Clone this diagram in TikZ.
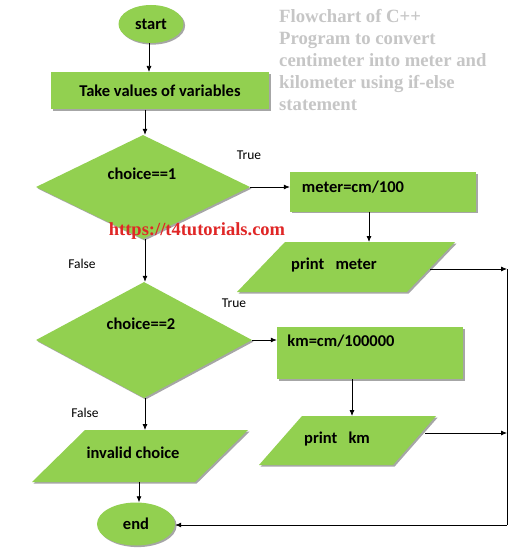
\documentclass[tikz,border=0pt]{standalone}
\usepackage{fontspec}
\setmainfont{Carlito}
\newfontfamily\serifbold{Liberation Serif}
\usetikzlibrary{shapes.geometric,shadows,arrows.meta}
\definecolor{boxgreen}{HTML}{92D050}
\definecolor{shadowgray}{HTML}{A6A6A6}
\definecolor{titlegray}{HTML}{C6C6C6}
\definecolor{urlred}{HTML}{E02626}
\tikzset{
  shp/.style={fill=boxgreen, drop shadow={shadow xshift=1.6pt, shadow yshift=-1.6pt, fill=shadowgray, opacity=1}},
  txt/.style={font=\fontsize{16.5}{19}\selectfont\bfseries, inner sep=0pt},
  lbl/.style={font=\fontsize{13.5}{16}\selectfont, inner sep=0pt},
  conn/.style={draw=black, line width=0.75pt, -{Latex[length=6pt,width=5pt]}},
  plain/.style={draw=black, line width=0.75pt}
}
\begin{document}
\begin{tikzpicture}[x=1pt,y=-1pt]
\useasboundingbox[fill=white] (0,0) rectangle (512,553);

% title and url
\node[anchor=north west, align=left, inner sep=0pt, text=titlegray,
      font=\serifbold\fontsize{18.7}{22}\selectfont\bfseries] (title) at (279,9)
  {Flowchart of C++\\Program to convert\\centimeter into meter and\\kilometer using if-else\\statement};

% start
\node[shp, ellipse, minimum width=65pt, minimum height=38pt, txt] (start) at (151,24) {start};
% take values
\node[shp, rectangle, minimum width=218pt, minimum height=37pt, txt] (take) at (160,91) {Take values of variables};
% diamond 1
\node[shp, diamond, minimum width=214pt, minimum height=104pt, inner sep=0pt] (d1) at (143,187) {};
\node[txt] (d1t) at (142,174) {choice==1};
% meter box
\node[shp, rectangle, minimum width=186pt, minimum height=39pt] (meter) at (383,192) {};
\node[txt] (metert) at (353,187) {meter=cm/100};
% print meter
\fill[shp] (285,242) -- (455,242) -- (407,292) -- (237,292) -- cycle;
\node[txt] (pm) at (334,265) {print\ \ \ meter};
\coordinate (pmtop) at (369,242);
\coordinate (pmright) at (430,269);
% url
\node[inner sep=0pt, text=urlred, font=\serifbold\fontsize{18.5}{22}\selectfont\bfseries] (url) at (197,231) {https://t4tutorials.com};
% diamond 2
\node[shp, diamond, minimum width=216pt, minimum height=116pt, inner sep=0pt] (d2) at (144,340) {};
\node[txt] (d2t) at (141,324) {choice==2};
% km box
\node[shp, rectangle, minimum width=186pt, minimum height=52pt] (km) at (370,353) {};
\node[txt] (kmt) at (341,341) {km=cm/100000};
% print km
\fill[shp] (302,416) -- (436,416) -- (393,465) -- (259,465) -- cycle;
\node[txt] (pk) at (337,439) {print\ \ \ km};
\coordinate (pktop) at (352,416);
\coordinate (pkright) at (425,433);
% invalid choice
\fill[shp] (85,430) -- (248,430) -- (195,482) -- (32,482) -- cycle;
\node[txt] (inv) at (133,453) {invalid choice};
\coordinate (invtop) at (145,430);
\coordinate (invbot) at (139,482);
% end
\node[shp, ellipse, minimum width=78pt, minimum height=43pt, txt] (end) at (136,524) {end};

% labels
\node[lbl] (t1) at (249,155) {True};
\node[lbl] (f1) at (82,264) {False};
\node[lbl] (t2) at (234,303) {True};
\node[lbl] (f2) at (85,413) {False};

% right bus
\coordinate (bus1) at (507,269);
\coordinate (bus2) at (507,433);
\coordinate (bus3) at (507,525);

% connectors
\draw[conn] (start.south -| 149,0) -- (149,72);
\draw[conn] (take.south -| 145,0) -- (d1.north -| 145,0);
\draw[conn] (d1.east) -- (meter.west |- d1.east);
\draw[conn] (meter.south -| pmtop) -- (pmtop);
\draw[conn] (pmright) -- (bus1);
\draw[conn] (d1.south -| 145,0) -- (d2.north -| 145,0);
\draw[conn] (d2.east) -- (km.west |- d2.east);
\draw[conn] (km.south -| pktop) -- (pktop);
\draw[conn] (pkright) -- (bus2);
\draw[conn] (d2.south -| 145,0) -- (invtop);
\draw[conn] (invbot) -- (end.north -| invbot);
\draw[plain] (bus1) -- (bus3);
\draw[conn] (bus3) -- (end.east |- bus3);
\end{tikzpicture}
\end{document}
